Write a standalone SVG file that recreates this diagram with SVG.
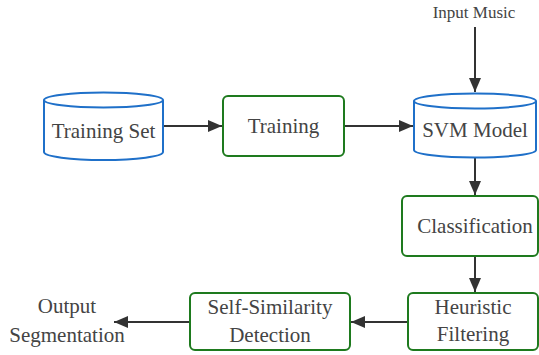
<svg xmlns="http://www.w3.org/2000/svg" width="539" height="355" viewBox="0 0 539 355">
  <defs>
    <marker id="arrow" viewBox="0 0 14 12" refX="14" refY="6" markerWidth="14" markerHeight="12" markerUnits="userSpaceOnUse" orient="auto">
      <path d="M0,0 L14,6 L0,12 Z" fill="#333"/>
    </marker>
    <style>
      .db { fill: #fff; stroke: #1f70c9; stroke-width: 2; }
      .proc { fill: #fff; stroke: #1e7a1e; stroke-width: 2; }
      .edge { fill: none; stroke: #333; stroke-width: 2; marker-end: url(#arrow); }
      .label { font-family: "Liberation Serif", serif; font-size: 21px; fill: #444; text-anchor: middle; }
      .small { font-size: 17px; }
    </style>
  </defs>
  <rect width="539" height="355" fill="#fff"/>

  <g id="connectors">
    <line class="edge" x1="475" y1="27" x2="475" y2="92"/>
    <line class="edge" x1="163" y1="126" x2="222" y2="126"/>
    <line class="edge" x1="344" y1="126" x2="413" y2="126"/>
    <line class="edge" x1="475" y1="158" x2="475" y2="195"/>
    <line class="edge" x1="475" y1="256" x2="475" y2="292"/>
    <line class="edge" x1="408" y1="322" x2="351" y2="322"/>
    <line class="edge" x1="190" y1="322" x2="114" y2="322"/>
  </g>

  <g id="input-music">
    <text class="label small" x="474" y="18">Input Music</text>
  </g>

  <g id="training-set">
    <path class="db" d="M44,100 A59.5,7.5 0 0 1 163,100 V152 A59.5,8 0 0 1 44,152 Z"/>
    <path class="db" fill="none" d="M44,100 A59.5,7.5 0 0 0 163,100"/>
    <text class="label" x="103.5" y="138">Training Set</text>
  </g>

  <g id="training">
    <rect class="proc" x="223" y="96" width="121" height="60" rx="5"/>
    <text class="label" x="283.5" y="133">Training</text>
  </g>

  <g id="svm-model">
    <path class="db" d="M414,101 A61,7.5 0 0 1 536,101 V150 A61,7.5 0 0 1 414,150 Z"/>
    <path class="db" fill="none" d="M414,101 A61,7.5 0 0 0 536,101"/>
    <text class="label" x="475" y="137">SVM Model</text>
  </g>

  <g id="classification">
    <rect class="proc" x="402" y="196" width="136" height="60" rx="5"/>
    <text class="label" x="475" y="233">Classification</text>
  </g>

  <g id="heuristic-filtering">
    <rect class="proc" x="408" y="293" width="130" height="57" rx="5"/>
    <text class="label" x="473" y="314">Heuristic</text>
    <text class="label" x="473" y="341">Filtering</text>
  </g>

  <g id="self-similarity">
    <rect class="proc" x="190" y="293" width="160" height="57" rx="5"/>
    <text class="label" x="270" y="314">Self-Similarity</text>
    <text class="label" x="270" y="342">Detection</text>
  </g>

  <g id="output-segmentation">
    <text class="label" x="67" y="313">Output</text>
    <text class="label" x="67" y="342">Segmentation</text>
  </g>
</svg>
